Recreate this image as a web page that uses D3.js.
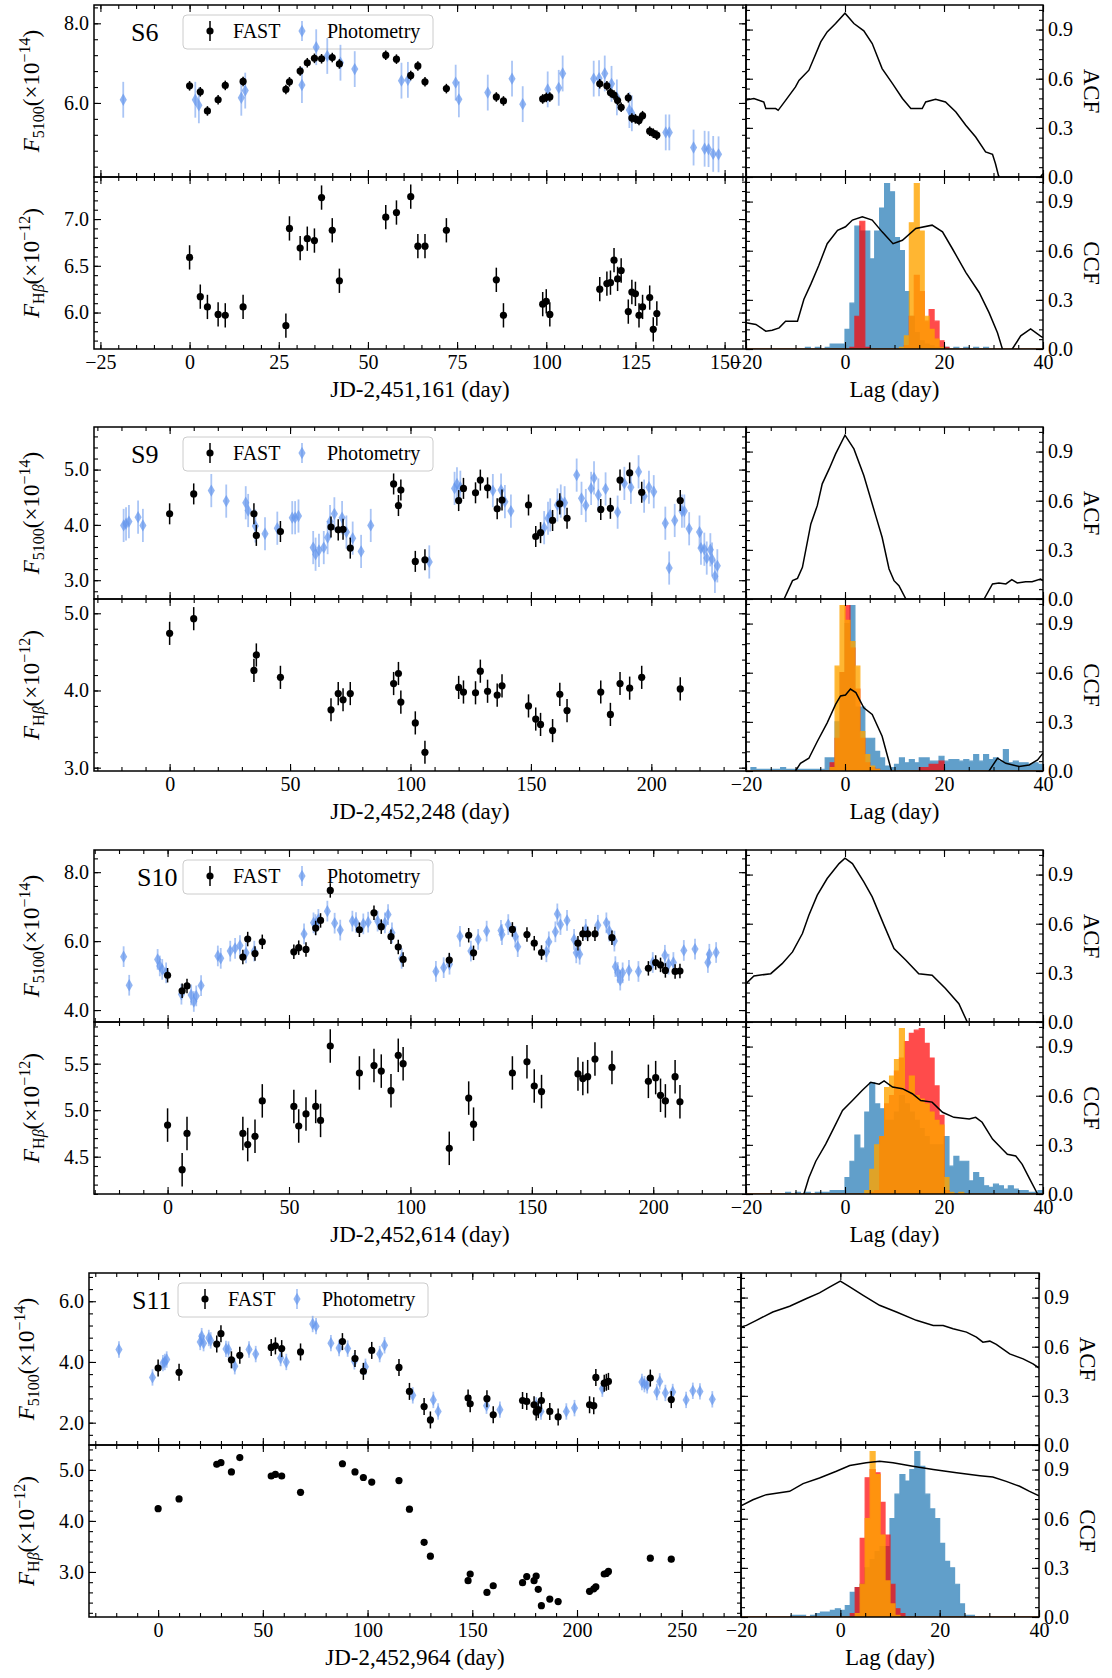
<!DOCTYPE html>
<html>
<head>
<meta charset="utf-8">
<script src="https://cdn.jsdelivr.net/npm/d3@7"></script>
<style>
  body { margin: 0; background: #fff; }
  svg { display: block; }
</style>
</head>
<body>
<svg id="chart" width="1112" height="1678"></svg>
<script>
// ---------- Season S6 (JD-2,451,161) ----------
const s6FastDays = [0,3,5,8,10,15,27,28,31,33,35,37,40,42,55,58,62,64,66,72,86,88,99,100,101,115,117,118,119,120,121,123,124,125,126,127,129,130,131];
const s6Fast5100 = [6.43,6.28,5.80,6.08,6.44,6.54,6.34,6.53,6.80,7.01,7.12,7.11,7.14,6.98,7.20,7.10,6.69,6.93,6.53,6.36,6.15,6.05,6.10,6.14,6.15,6.48,6.43,6.26,6.20,6.06,5.89,6.13,5.62,5.60,5.56,5.68,5.29,5.24,5.19];
const s6FastHb = [6.59,6.17,6.06,5.98,5.97,6.06,5.86,6.90,6.69,6.79,6.77,7.23,6.88,6.34,7.02,7.07,7.24,6.71,6.71,6.88,6.35,5.97,6.09,6.12,5.98,6.25,6.31,6.32,6.56,6.36,6.45,6.01,6.22,6.20,5.97,6.06,6.16,5.82,5.99];
const s6PhotDays = [-18.6,1.6,2.6,14.5,15.6,31.5,35.5,38.6,42.3,46.3,59.4,61.2,74.6,75.5,83.6,90.4,93.4,100.4,103.5,104.6,113.3,114.8,116.4,118.3,119.8,123.3,124,133.5,134.5,141.3,144.4,145.5,146.8,148.3];
const s6Phot5100 = [6.08,6.08,5.94,6.13,6.31,6.45,7.40,7.18,7.01,6.85,6.56,6.58,6.51,6.09,6.26,6.61,5.97,6.34,6.38,6.74,6.61,6.62,6.74,6.48,6.14,5.82,5.74,5.26,5.26,4.88,4.85,4.84,4.72,4.71];
const s6Err = [0.12, 0.13, 0.45]; // FAST F5100, FAST Hβ, photometry
const s6AcfLag = [-20,-18.4,-16.4,-16,-14,-13.5,-12,-10,-9.3,-7.3,-6.3,-4.9,-3.6,-1.9,0,1.8,3.8,5.5,7.5,9.6,11.6,13.3,15.6,16.3,18.3,20.3,22.4,24.4,26.4,28.4,29.8,30.4,31.0,32,36,39.2,40];
const s6Acf = [0.47,0.479,0.458,0.418,0.418,0.407,0.468,0.55,0.59,0.652,0.723,0.825,0.886,0.937,1.0,0.937,0.892,0.815,0.662,0.57,0.479,0.418,0.418,0.458,0.475,0.458,0.397,0.316,0.244,0.153,0.138,0.081,0.01,-0.05,-0.06,-0.01,0.02];
const s6CcfLag = [-20,-18,-16,-14.7,-13.3,-12,-9.6,-8.3,-6.9,-5.3,-3.6,-1.5,0.1,1.5,3.5,5.5,7.5,9.7,11.6,14.3,17.6,19.7,21.7,24.4,27.1,29.1,30.8,31.8,32.8,33.8,35.5,37.5,39.5,40];
const s6Ccf = [0.16,0.15,0.109,0.115,0.129,0.17,0.17,0.304,0.396,0.51,0.643,0.725,0.746,0.787,0.807,0.787,0.715,0.643,0.664,0.736,0.756,0.715,0.612,0.468,0.345,0.222,0.099,0,-0.05,0,0.08,0.123,0.078,0.07];
const s6BlueStart = -8;
const s6Blue = [0.01,0,0.01,0,0.01,0.03,0.03,0.03, 0.12,0.28,0.75,0.72,0.72,0.55,0.72,0.86,1.01,0.96, 0.68,0.6,0.35,0.2,0.1,0.05,0.03,0.02,0.01,0.01, 0.01,0,0.01,0,0.01,0,0.01,0,0.01];
const s6RedStart = 1;
const s6Red = [0.01,0.2,0.78,0.01,0,0,0,0,0,0,0,0.02,0.2,0.45,0.35,0.17,0.24,0.17,0.05,0.01];
const s6OrangeStart = 11;
const s6Orange = [0.01,0.08,0.77,1.01,0.72,0.2,0.12,0.06,0.01];

// ---------- Season S9 (JD-2,452,248) ----------
const s9FastDays = [0,10,35,36,46,67,70,72,75,93,95,96,102,106,120,122,127,129,132,136,138,149,152,154,159,162,165,179,183,187,191,196,212];
const s9Fast5100 = [4.20,4.56,4.20,3.81,3.88,3.96,3.91,3.92,3.58,4.74,4.35,4.63,3.34,3.37,4.44,4.66,4.58,4.81,4.67,4.29,4.45,4.36,3.79,3.86,4.08,4.38,4.12,4.28,4.30,4.81,4.94,4.59,4.44];
const s9FastHb = [4.74,4.93,4.26,4.46,4.17,3.75,3.96,3.88,3.96,4.09,4.22,3.85,3.58,3.20,4.04,3.98,3.97,4.25,3.99,3.94,4.06,3.80,3.63,3.56,3.48,3.95,3.74,3.98,3.69,4.09,4.03,4.17,4.02];
const s9PhotDays = [-19.1,-18.1,-16.9,-13.1,-11.1,17.3,23.5,31.6,32.6,35.6,39.6,44.7,50.9,52.1,53.5,59.6,60.6,62,64,65.6,66.6,68.4,71.6,73.4,76,79.5,83.5,107.8,118.3,119.3,120.7,134.2,137.6,139.2,141.7,155.5,157.1,158,161,162.4,164,169,171,172.8,175,176.2,178,181,186,188.8,191.5,194.7,197,199,201,205.8,207.4,209.7,212.7,213.7,215.7,220,220.6,222,223,224.5,225.2,226.4,227.4];
const s9Phot5100 = [3.99,4.02,4.06,4.14,3.99,4.62,4.43,4.40,4.26,3.98,3.84,3.94,4.13,4.13,4.16,3.59,3.47,3.54,3.59,3.77,4.06,4.20,4.13,3.87,3.76,3.52,3.99,3.33,4.66,4.74,4.68,4.62,4.63,4.42,4.25,3.95,4.12,4.18,4.36,4.43,4.40,4.90,4.48,4.35,4.66,4.85,4.54,4.65,4.23,4.75,4.68,4.96,4.52,4.68,4.60,4.03,3.22,4.08,4.25,4.25,3.93,3.87,3.58,3.56,3.40,3.55,3.38,3.07,3.26];
const s9Err = [0.19, 0.15, 0.3];
const s9AcfLag = [-20,-14,-12.3,-10.6,-9.6,-8.6,-6.9,-5.6,-4.6,-3.2,-1.9,0,1.8,3.8,6.2,7.5,8.9,9.9,10.9,12.3,15,20,25,28.1,29.8,31.1,32.5,33.7,34.8,36.5,37.8,39.5,40];
const s9Acf = [-0.35,-0.08,0,0.112,0.126,0.193,0.458,0.57,0.703,0.794,0.886,1.0,0.916,0.754,0.509,0.377,0.183,0.112,0.081,0,-0.2,-0.3,-0.15,0,0.092,0.098,0.092,0.118,0.098,0.106,0.106,0.122,0.112];
const s9CcfLag = [-20,-12,-10,-9,-7.3,-5.6,-3.6,-1.9,-0.9,0.1,1.1,2.2,3.8,5.5,7.5,9.4,12,20,27,29.1,30.8,32.5,35.2,37.2,38.9,40];
const s9Ccf = [-0.3,-0.05,0,0.047,0.078,0.18,0.294,0.407,0.458,0.464,0.5,0.479,0.386,0.345,0.212,0,-0.15,-0.3,-0.08,0,0.078,0.047,0.027,0.037,0.068,0.109];
const s9BlueStart = -19;
const s9Blue = [0.02,0.01,0.01,0.01,0.01,0.01,0.02,0.01,0.01,0.01,0.01,0.01,0.01,0.01,0.01, 0.08,0.08,0.3,0.6, 0.9,1.01,0.39,0.39,0.2,0.2,0.12,0.08,0.03,0.02, 0.04,0.08,0.05,0.07,0.05,0.08,0.08,0.06,0.06,0.09, 0.06,0.07,0.07,0.06,0.07,0.06,0.1,0.06,0.1,0.07, 0.08,0.06,0.13,0.05,0.06,0.05,0.05,0.04,0.05,0.04];
const s9RedStart = -3;
const s9Red = [0.05,0.2,0.6,1.01,0.75,0.5,0.2,0.05,0.02,0.01,0,0,0,0,0,0,0,0,0.02,0.02,0.04,0.04,0.06];
const s9OrangeStart = -3;
const s9Orange = [0.02,0.64,1.01,0.92,0.79,0.64,0.24,0.1,0.03,0.01];

// ---------- Season S10 (JD-2,452,614) ----------
const s10FastDays = [0,6,8,31,33,36,39,52,54,57,61,63,67,79,85,88,92,95,97,116,124,126,142,148,151,154,169,171,173,176,183,198,201,203,205,209,211];
const s10Fast5100 = [5.01,4.56,4.70,5.54,6.06,5.64,5.98,5.69,5.81,5.76,6.38,6.60,7.47,6.33,6.82,6.42,6.13,5.83,5.47,5.45,6.17,5.66,6.34,6.19,5.94,5.67,5.94,6.21,6.21,6.21,6.10,5.21,5.38,5.31,5.15,5.12,5.13];
const s10FastHb = [4.84,4.36,4.75,4.75,4.63,4.72,5.10,5.04,4.83,4.96,5.04,4.89,5.69,5.40,5.48,5.42,5.21,5.59,5.50,4.59,5.13,4.85,5.40,5.52,5.26,5.20,5.39,5.34,5.36,5.55,5.46,5.31,5.35,5.16,5.10,5.36,5.09];
const s10PhotDays = [-18.1,-15.8,-4.1,-3.2,-2.2,-0.6,5.7,9.7,10.8,11.8,13.8,20.7,21.9,25.8,27.8,29.8,32.3,35.7,56.2,60.1,60.9,62.1,65.8,68.8,71.1,76.1,77.6,80.6,82.6,86.5,89.5,90.8,92.4,96.4,110.5,113.7,116.1,120.4,124.9,127.9,131.4,137.3,137.7,140.3,143.2,144.2,156,157,159.7,160.5,161.8,164.5,167.4,168.3,169.7,172.2,177.2,180.7,181.9,184,184.4,185.4,186.4,187.4,190,193.9,199.8,204.8,206.3,208.3,212.6,217.2,222.5,223.1,225.9];
const s10Phot5100 = [5.55,4.72,5.47,5.28,5.18,5.08,4.46,4.44,4.25,4.41,4.71,5.57,5.50,5.71,5.79,5.87,5.66,5.71,6.21,6.53,6.48,6.63,6.87,6.52,6.32,6.58,6.54,6.50,6.55,6.58,6.53,6.77,6.24,5.50,5.12,5.23,5.33,6.14,5.71,6.05,6.29,6.31,6.19,6.48,6.14,5.84,5.69,5.98,6.27,6.79,6.48,6.60,6.05,5.66,5.62,6.34,6.46,6.53,6.29,6.0,5.26,5.09,4.87,5.08,5.15,5.12,5.38,5.59,5.33,5.38,5.73,5.77,5.38,5.62,5.67];
const s10Err = [0.21, 0.18, 0.3];
const s10AcfLag = [-20,-18.4,-15,-12.7,-10.6,-8.6,-7.3,-5.6,-3.6,-1.2,0,1.5,3.8,5.5,7.9,9.9,12.3,14.9,17.6,20.3,23,24.7,30,40];
const s10Acf = [0.234,0.281,0.295,0.356,0.428,0.54,0.652,0.774,0.876,0.967,1.0,0.967,0.855,0.764,0.59,0.448,0.377,0.295,0.285,0.204,0.112,0,-0.2,-0.4];
const s10CcfLag = [-20,-10,-8.3,-7.3,-5.9,-3.9,-2.2,-0.5,1.5,3.5,5.2,6.9,7.9,9.6,11.6,13.6,15.3,17.6,19.7,22,25.1,26.4,27.7,29.8,31.8,32.8,34.5,35.8,37.2,38.9,40];
const s10Ccf = [-0.3,-0.05,0,0.099,0.2,0.304,0.407,0.51,0.571,0.633,0.682,0.67,0.69,0.653,0.643,0.612,0.571,0.561,0.499,0.468,0.458,0.468,0.438,0.335,0.273,0.242,0.232,0.181,0.099,0,-0.03];
const s10BlueStart = -12;
const s10Blue = [0.01,0,0.01,0,0.01,0,0.01,0.01,0.01,0.02,0.02,0.02, 0.1,0.2,0.36,0.28,0.5,0.68,0.55,0.52,0.45,0.45, 0.5,0.6,0.55,0.5,0.45,0.4,0.35,0.3,0.3,0.3, 0.35,0.17,0.23,0.2,0.2,0.08,0.13,0.1,0.05,0.04, 0.06,0.05,0.03,0.05,0.03,0.02,0.02,0.01,0.01,0.02];
const s10RedStart = 5;
const s10Red = [0.01,0.02,0.35,0.55,0.6,0.75,0.83,0.93,0.98,1.0,1.01,0.92,0.83,0.66,0.48,0.02];
const s10OrangeStart = 4;
const s10Orange = [0.02,0.15,0.3,0.35,0.65,0.72,0.82,1.01,0.63,0.72,0.6,0.58,0.55,0.5,0.45,0.42,0.1,0.01,0,0.01];

// ---------- Season S11 (JD-2,452,964) ----------
const s11FastDays = [0,10,28,30,35,39,54,56,59,68,88,94,98,102,115,120,127,130,148,149,157,160,174,176,179.5,180.5,181.5,183,187,191,206,208,209,213,214,215,235,245];
const s11Fast5100 = [3.80,3.66,4.59,4.93,4.07,4.22,4.48,4.53,4.44,4.33,4.67,4.11,3.69,4.38,3.82,3.03,2.53,2.09,2.81,2.62,2.79,2.26,2.73,2.70,2.59,2.35,2.43,2.73,2.37,2.19,2.59,2.56,3.49,3.30,3.33,3.36,3.47,2.76];
const s11FastHb = [4.24,4.43,5.11,5.14,4.96,5.24,4.88,4.91,4.88,4.56,5.12,4.96,4.85,4.76,4.79,4.23,3.58,3.31,2.83,2.96,2.60,2.73,2.79,2.91,2.83,2.92,2.66,2.34,2.47,2.42,2.62,2.67,2.71,2.96,2.97,3.01,3.27,3.25];
const s11PhotDays = [-18.7,-2.7,2.3,3.2,4.1,20.1,20.8,21.7,24.2,25.1,32.4,33.6,36.6,43.4,46.6,58.5,61.2,73.8,75.4,82.5,86.4,90.5,93.7,99,105.8,108.1,121.6,131.4,133.7,156.8,163.2,180.5,182.8,194.9,198.8,212.1,231,232.2,233.5,238.1,239.5,242.2,245.7,252.1,255.3,258.7,264.6];
const s11Phot5100 = [4.41,3.49,3.96,4.0,4.08,4.66,4.85,4.62,4.79,4.71,4.43,4.41,3.86,4.41,4.26,4.13,4.0,5.25,5.18,4.62,4.46,4.44,4.02,3.84,4.26,4.55,2.90,2.75,2.37,2.56,2.43,2.57,2.37,2.37,2.48,3.12,3.34,3.27,3.23,3.01,3.36,2.98,3.01,2.75,3.05,3.03,2.77];
const s11Err = [0.28, 0.06, 0.27];
const s11AcfLag = [-20,-18.9,-16.9,-13.6,-10.2,-6.8,-4.2,-2.1,0,1.9,4.6,7.9,11.3,15.3,18.7,20.7,22.7,25.4,27.4,28.7,30.1,31.4,34.1,36.8,38.8,40];
const s11Acf = [0.72,0.73,0.761,0.812,0.847,0.894,0.929,0.965,1.0,0.965,0.914,0.853,0.812,0.761,0.73,0.73,0.71,0.689,0.659,0.628,0.634,0.614,0.556,0.526,0.495,0.47];
const s11CcfLag = [-20,-17.6,-14.9,-10.2,-7.5,-4.2,-0.8,1.9,5.2,7.9,10.6,14.6,18.7,23.4,28.1,30.7,33.4,36.1,38.1,40];
const s11Ccf = [0.679,0.716,0.747,0.767,0.814,0.849,0.89,0.925,0.941,0.951,0.941,0.92,0.9,0.88,0.863,0.855,0.828,0.798,0.767,0.74];
const s11BlueStart = -10;
const s11Blue = [0.01,0.01,0.01,0,0.01,0.02,0.03,0.03,0.04,0.05, 0.04,0.07,0.15,0.18,0.2,0.3,0.35,0.4,0.43,0.43, 0.6,0.75,0.87,0.83,0.9,1.01,0.92,0.75,0.66,0.6, 0.45,0.34,0.3,0.2,0.08,0.01,0.01];
const s11RedStart = 2;
const s11Red = [0.02,0.18,0.48,0.85,0.9,0.88,0.7,0.5,0.2,0.05,0.02];
const s11OrangeStart = 3;
const s11Orange = [0.02,0.2,0.6,1.01,0.87,0.5,0.22,0.08,0.01];

// ---------- layout of the four seasons ----------
const seasons = [
  { name: 'S6', jd: '2,451,161', top: 5, left: 94, mid: 746, right: 1043, nameDx: 37,
    xDomain: [-26.8, 156], xMajor: 25, xMinor: 5,
    fDomain: [4.14, 8.46], fMajor: 2, fMinor: 0.4,
    hDomain: [5.61, 7.45], hMajor: 0.5, hMinor: 0.1,
    days: s6FastDays, f5100: s6Fast5100, fHb: s6FastHb, pDays: s6PhotDays, p5100: s6Phot5100, err: s6Err,
    acfLag: s6AcfLag, acf: s6Acf, ccfLag: s6CcfLag, ccf: s6Ccf,
    hist: [[s6BlueStart, s6Blue], [s6RedStart, s6Red], [s6OrangeStart, s6Orange]] },
  { name: 'S9', jd: '2,452,248', top: 427, left: 94, mid: 746, right: 1043, nameDx: 37,
    xDomain: [-31.4, 239.3], xMajor: 50, xMinor: 10,
    fDomain: [2.66, 5.77], fMajor: 1, fMinor: 0.2,
    hDomain: [2.957, 5.185], hMajor: 1, hMinor: 0.2,
    days: s9FastDays, f5100: s9Fast5100, fHb: s9FastHb, pDays: s9PhotDays, p5100: s9Phot5100, err: s9Err,
    acfLag: s9AcfLag, acf: s9Acf, ccfLag: s9CcfLag, ccf: s9Ccf,
    hist: [[s9BlueStart, s9Blue], [s9RedStart, s9Red], [s9OrangeStart, s9Orange]] },
  { name: 'S10', jd: '2,452,614', top: 850, left: 94, mid: 746, right: 1043, nameDx: 43,
    xDomain: [-30.3, 238.2], xMajor: 50, xMinor: 10,
    fDomain: [3.654, 8.643], fMajor: 2, fMinor: 0.4,
    hDomain: [4.099, 5.948], hMajor: 0.5, hMinor: 0.1,
    days: s10FastDays, f5100: s10Fast5100, fHb: s10FastHb, pDays: s10PhotDays, p5100: s10Phot5100, err: s10Err,
    acfLag: s10AcfLag, acf: s10Acf, ccfLag: s10CcfLag, ccf: s10Ccf,
    hist: [[s10BlueStart, s10Blue], [s10RedStart, s10Red], [s10OrangeStart, s10Orange]] },
  { name: 'S11', jd: '2,452,964', top: 1273, left: 89, mid: 741, right: 1039, nameDx: 43,
    xDomain: [-33, 278.3], xMajor: 50, xMinor: 10,
    fDomain: [1.265, 6.93], fMajor: 2, fMinor: 0.4,
    hDomain: [2.118, 5.487], hMajor: 1, hMinor: 0.2,
    days: s11FastDays, f5100: s11Fast5100, fHb: s11FastHb, pDays: s11PhotDays, p5100: s11Phot5100, err: s11Err,
    acfLag: s11AcfLag, acf: s11Acf, ccfLag: s11CcfLag, ccf: s11Ccf,
    hist: [[s11BlueStart, s11Blue], [s11RedStart, s11Red], [s11OrangeStart, s11Orange]] }
];

const FONT = '"Liberation Serif", "DejaVu Serif", "Times New Roman", serif';
const PANEL_H = 172;
const PHOT_COLOR = '#6495ed';
const HIST_STYLE = [
  { color: '#1f77b4', opacity: 0.7 },
  { color: '#ff0000', opacity: 0.7 },
  { color: '#ffa500', opacity: 0.8 }
];

const svg = d3.select('#chart');
const defs = svg.append('defs');
let clipCount = 0;

function ticksFor(domain, step) {
  const lo = Math.min(domain[0], domain[1]), hi = Math.max(domain[0], domain[1]);
  const a = Math.ceil(lo / step - 1e-7), b = Math.floor(hi / step + 1e-7);
  return d3.range(a, b + 1).map(i => Math.round(i * step * 1e6) / 1e6);
}

function clipFor(xs, ys) {
  const id = 'clip' + (clipCount++);
  const [x0, x1] = xs.range(), [y0, y1] = ys.range();
  defs.append('clipPath').attr('id', id).append('rect')
    .attr('x', x0).attr('y', y1).attr('width', x1 - x0).attr('height', y0 - y1);
  return `url(#${id})`;
}

// Inward ticks on all four sides, labels where requested, and the box outline.
function drawFrame(xs, ys, o) {
  const [xa, xb] = xs.range(), [yb, ya] = ys.range();
  const none = () => '';
  const xMaj = ticksFor(xs.domain(), o.xMajor), xMin = ticksFor(xs.domain(), o.xMinor);
  const yMaj = ticksFor(ys.domain(), o.yMajor), yMin = ticksFor(ys.domain(), o.yMinor);
  const g = svg.append('g');
  const put = (axis, tr) => g.append('g').attr('transform', tr).call(axis);
  put(d3.axisBottom(xs).tickValues(xMin).tickSize(-4).tickFormat(none), `translate(0,${yb})`);
  put(d3.axisTop(xs).tickValues(xMin).tickSize(-4).tickFormat(none), `translate(0,${ya})`);
  put(d3.axisLeft(ys).tickValues(yMin).tickSize(-4).tickFormat(none), `translate(${xa},0)`);
  put(d3.axisRight(ys).tickValues(yMin).tickSize(-4).tickFormat(none), `translate(${xb},0)`);
  put(d3.axisBottom(xs).tickValues(xMaj).tickSize(-7).tickPadding(6)
      .tickFormat(o.xLabels ? d3.format('d') : none), `translate(0,${yb})`);
  put(d3.axisTop(xs).tickValues(xMaj).tickSize(-7).tickFormat(none), `translate(0,${ya})`);
  put(d3.axisLeft(ys).tickValues(yMaj).tickSize(-7).tickPadding(5)
      .tickFormat(o.ySide === 'left' ? d3.format('.1f') : none), `translate(${xa},0)`);
  put(d3.axisRight(ys).tickValues(yMaj).tickSize(-7).tickPadding(5)
      .tickFormat(o.ySide === 'right' ? d3.format('.1f') : none), `translate(${xb},0)`);
  g.selectAll('.domain').remove();
  g.selectAll('.tick line').attr('stroke', '#000').attr('stroke-width', 1.1);
  g.selectAll('g').attr('font-family', FONT).attr('font-size', 20);
  g.selectAll('.tick text').attr('fill', '#000');
  g.append('rect').attr('x', xa).attr('y', ya).attr('width', xb - xa).attr('height', yb - ya)
    .attr('fill', 'none').attr('stroke', '#000').attr('stroke-width', 1.5);
}

function fastPoints(g, xs, ys, days, vals, err) {
  g.selectAll(null).data(days).enter().append('line')
    .attr('x1', (d) => xs(d)).attr('x2', (d) => xs(d))
    .attr('y1', (d, i) => ys(vals[i] - err)).attr('y2', (d, i) => ys(vals[i] + err))
    .attr('stroke', '#000').attr('stroke-width', 1.5);
  g.selectAll(null).data(days).enter().append('circle')
    .attr('cx', (d) => xs(d)).attr('cy', (d, i) => ys(vals[i])).attr('r', 3.6).attr('fill', '#000');
}

const diamond = d3.symbol().type(d3.symbolDiamond).size(44);

function photPoints(g, xs, ys, days, vals, err) {
  g.selectAll(null).data(days).enter().append('line')
    .attr('x1', (d) => xs(d)).attr('x2', (d) => xs(d))
    .attr('y1', (d, i) => ys(vals[i] - err)).attr('y2', (d, i) => ys(vals[i] + err))
    .attr('stroke', PHOT_COLOR).attr('stroke-opacity', 0.55).attr('stroke-width', 1.8);
  g.selectAll(null).data(days).enter().append('path')
    .attr('d', diamond)
    .attr('transform', (d, i) => `translate(${xs(d)},${ys(vals[i])})`)
    .attr('fill', PHOT_COLOR).attr('fill-opacity', 0.7);
}

function stepArea(xs, ys, start, heights) {
  const pts = [];
  for (let e = -30; e < start; e++) pts.push([e, 0]);
  heights.forEach((h, i) => pts.push([start + i, h]));
  for (let e = start + heights.length; e <= 50; e++) pts.push([e, 0]);
  return d3.area().curve(d3.curveStepAfter)
    .x(d => xs(d[0])).y0(ys(0)).y1(d => ys(d[1]))(pts);
}

function leftYLabel(x, y, isHb, expo) {
  const t = svg.append('text')
    .attr('transform', `translate(${x},${y}) rotate(-90)`)
    .attr('text-anchor', 'middle').attr('font-family', FONT).attr('font-size', 23).attr('fill', '#000');
  t.append('tspan').attr('font-style', 'italic').text('F');
  if (isHb) {
    t.append('tspan').attr('font-size', 16).attr('dy', 5).text('H');
    t.append('tspan').attr('font-size', 16).attr('font-style', 'italic').text('β');
  } else {
    t.append('tspan').attr('font-size', 16).attr('dy', 5).text('5100');
  }
  t.append('tspan').attr('dy', -5).text('(×10');
  t.append('tspan').attr('font-size', 16).attr('dy', -9).text('−' + expo);
  t.append('tspan').attr('dy', 9).text(')');
}

function rightYLabel(x, y, txt) {
  svg.append('text')
    .attr('transform', `translate(${x},${y}) rotate(90)`)
    .attr('text-anchor', 'middle').attr('font-family', FONT).attr('font-size', 23).attr('fill', '#000')
    .text(txt);
}

function legend(L, T) {
  const lg = svg.append('g');
  lg.append('rect').attr('x', L + 89).attr('y', T + 10).attr('width', 250).attr('height', 34).attr('rx', 4)
    .attr('fill', '#fff').attr('fill-opacity', 0.8).attr('stroke', '#cccccc').attr('stroke-width', 1);
  const cy = T + 26;
  lg.append('line').attr('x1', L + 116).attr('x2', L + 116).attr('y1', cy - 10).attr('y2', cy + 10)
    .attr('stroke', '#000').attr('stroke-width', 1.5);
  lg.append('circle').attr('cx', L + 116).attr('cy', cy).attr('r', 3.6).attr('fill', '#000');
  lg.append('text').attr('x', L + 139).attr('y', cy + 7).attr('font-family', FONT).attr('font-size', 20)
    .attr('fill', '#000').text('FAST');
  lg.append('line').attr('x1', L + 208).attr('x2', L + 208).attr('y1', cy - 10).attr('y2', cy + 10)
    .attr('stroke', PHOT_COLOR).attr('stroke-opacity', 0.55).attr('stroke-width', 1.8);
  lg.append('path').attr('d', diamond).attr('transform', `translate(${L + 208},${cy})`)
    .attr('fill', PHOT_COLOR).attr('fill-opacity', 0.7);
  lg.append('text').attr('x', L + 233).attr('y', cy + 7).attr('font-family', FONT).attr('font-size', 20)
    .attr('fill', '#000').text('Photometry');
}

seasons.forEach(s => {
  const T = s.top, L = s.left, M = s.mid, R = s.right;
  const yMid = T + PANEL_H, B = T + 2 * PANEL_H;

  const xDay = d3.scaleLinear().domain(s.xDomain).range([L, M]);
  const yF = d3.scaleLinear().domain(s.fDomain).range([yMid, T]);
  const yH = d3.scaleLinear().domain(s.hDomain).range([B, yMid]);
  const xLag = d3.scaleLinear().domain([-20, 40]).range([M, R]);
  const yAcf = d3.scaleLinear().domain([0, 1.05]).range([yMid, T]);
  const yCcf = d3.scaleLinear().domain([0, 1.05]).range([B, yMid]);

  // season name and legend sit beneath the light-curve points
  svg.append('text').attr('x', L + s.nameDx).attr('y', T + 36)
    .attr('font-family', FONT).attr('font-size', 26).attr('fill', '#000').text(s.name);
  legend(L, T);

  // continuum light curve
  const gF = svg.append('g').attr('clip-path', clipFor(xDay, yF));
  photPoints(gF, xDay, yF, s.pDays, s.p5100, s.err[2]);
  fastPoints(gF, xDay, yF, s.days, s.f5100, s.err[0]);

  // Hβ light curve
  const gH = svg.append('g').attr('clip-path', clipFor(xDay, yH));
  fastPoints(gH, xDay, yH, s.days, s.fHb, s.err[1]);

  // ACF
  const gA = svg.append('g').attr('clip-path', clipFor(xLag, yAcf));
  gA.append('path').datum(d3.zip(s.acfLag, s.acf))
    .attr('d', d3.line().x(d => xLag(d[0])).y(d => yAcf(d[1])))
    .attr('fill', 'none').attr('stroke', '#000').attr('stroke-width', 1.5);

  // CCF with lag distributions
  const gC = svg.append('g').attr('clip-path', clipFor(xLag, yCcf));
  s.hist.forEach((h, i) => {
    gC.append('path').attr('d', stepArea(xLag, yCcf, h[0], h[1]))
      .attr('fill', HIST_STYLE[i].color).attr('stroke', HIST_STYLE[i].color)
      .attr('stroke-width', 1.2).attr('opacity', HIST_STYLE[i].opacity);
  });
  gC.append('path').datum(d3.zip(s.ccfLag, s.ccf))
    .attr('d', d3.line().x(d => xLag(d[0])).y(d => yCcf(d[1])))
    .attr('fill', 'none').attr('stroke', '#000').attr('stroke-width', 1.5);

  drawFrame(xDay, yF, { xMajor: s.xMajor, xMinor: s.xMinor, yMajor: s.fMajor, yMinor: s.fMinor, ySide: 'left', xLabels: false });
  drawFrame(xDay, yH, { xMajor: s.xMajor, xMinor: s.xMinor, yMajor: s.hMajor, yMinor: s.hMinor, ySide: 'left', xLabels: true });
  drawFrame(xLag, yAcf, { xMajor: 20, xMinor: 5, yMajor: 0.3, yMinor: 0.06, ySide: 'right', xLabels: false });
  drawFrame(xLag, yCcf, { xMajor: 20, xMinor: 5, yMajor: 0.3, yMinor: 0.06, ySide: 'right', xLabels: true });

  // axis titles
  leftYLabel(L - 55, (T + yMid) / 2, false, '14');
  leftYLabel(L - 55, (yMid + B) / 2, true, '12');
  rightYLabel(R + 41, (T + yMid) / 2, 'ACF');
  rightYLabel(R + 41, (yMid + B) / 2, 'CCF');
  svg.append('text').attr('x', (L + M) / 2).attr('y', B + 48)
    .attr('text-anchor', 'middle').attr('font-family', FONT).attr('font-size', 23).attr('fill', '#000')
    .text(`JD-${s.jd} (day)`);
  svg.append('text').attr('x', (M + R) / 2).attr('y', B + 48)
    .attr('text-anchor', 'middle').attr('font-family', FONT).attr('font-size', 23).attr('fill', '#000')
    .text('Lag (day)');
});
</script>
</body>
</html>
